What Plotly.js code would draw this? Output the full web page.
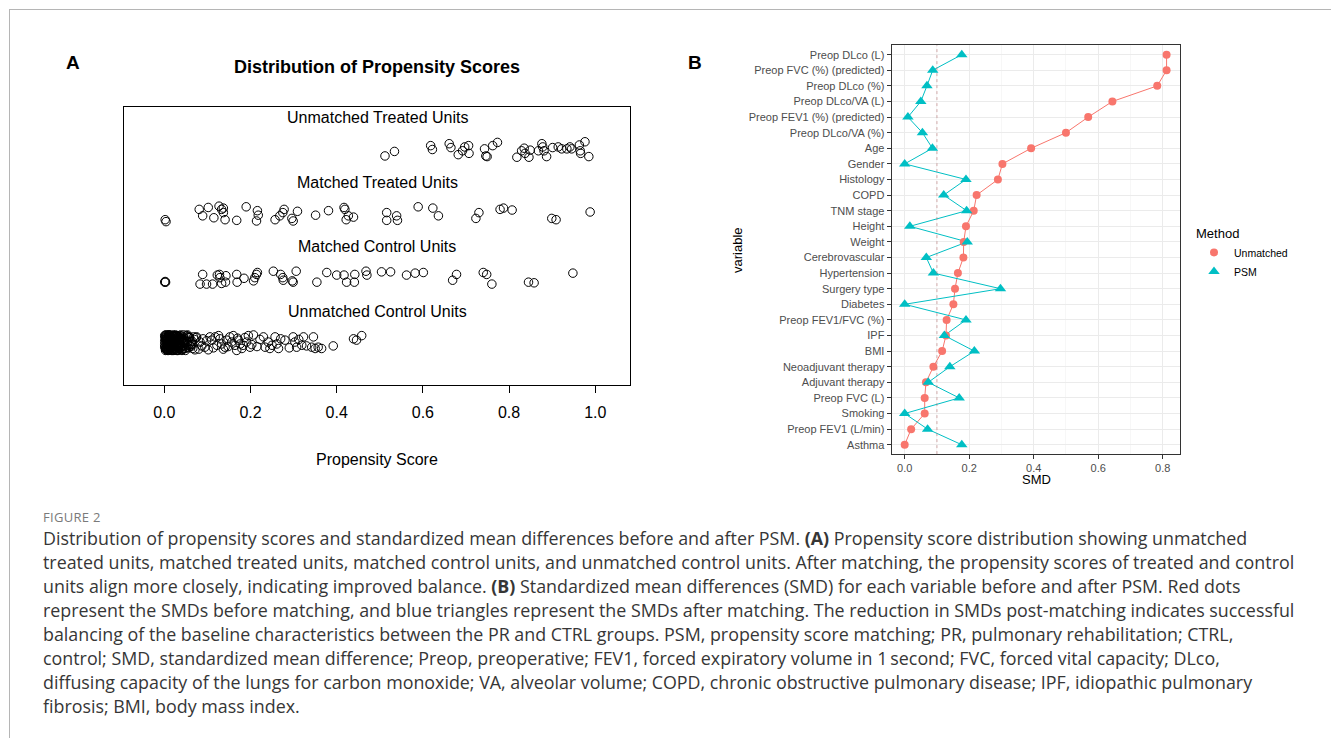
<!DOCTYPE html>
<html>
<head>
<meta charset="utf-8">
<script src="https://cdn.plot.ly/plotly-3.0.1.min.js"></script>
<style>
  html, body { margin:0; padding:0; background:#fff; }
  #wrap { position:relative; width:1331px; height:738px; overflow:hidden; }
  #frame { position:absolute; left:9px; top:9px; width:1330px; height:740px; border-top:1px solid #b5b5b5; border-left:1px solid #b5b5b5; }
  #chart { position:absolute; left:0; top:0; width:1331px; height:738px; }
  #figlabel { position:absolute; left:43px; top:508px; font-family:"Open Sans", "Noto Sans", sans-serif; font-size:13px; color:#7a7a7a; letter-spacing:0.3px; }
  #caption { position:absolute; left:43px; top:526px; font-family:"Open Sans", "Noto Sans", sans-serif; font-size:17.85px; line-height:24px; color:#363636; white-space:nowrap; }
</style>
</head>
<body>
<div id="wrap">
  <div id="frame"></div>
  <div id="chart"></div>
  <div id="figlabel">FIGURE 2</div>
  <div id="caption">
Distribution of propensity scores and standardized mean differences before and after PSM. <b>(A)</b> Propensity score distribution showing unmatched<br>
treated units, matched treated units, matched control units, and unmatched control units. After matching, the propensity scores of treated and control<br>
units align more closely, indicating improved balance. <b>(B)</b> Standardized mean differences (SMD) for each variable before and after PSM. Red dots<br>
represent the SMDs before matching, and blue triangles represent the SMDs after matching. The reduction in SMDs post-matching indicates successful<br>
balancing of the baseline characteristics between the PR and CTRL groups. PSM, propensity score matching; PR, pulmonary rehabilitation; CTRL,<br>
control; SMD, standardized mean difference; Preop, preoperative; FEV1, forced expiratory volume in 1&#8201;second; FVC, forced vital capacity; DLco,<br>
diffusing capacity of the lungs for carbon monoxide; VA, alveolar volume; COPD, chronic obstructive pulmonary disease; IPF, idiopathic pulmonary<br>
fibrosis; BMI, body mass index.
  </div>
</div>
<script>
// ---------- Panel A: propensity scores (x) and vertical jitter ----------
var rowLabels = ["Unmatched Control Units", "Matched Control Units", "Matched Treated Units", "Unmatched Treated Units"];

var unmatchedTreatedX = [0.512,0.534,0.618,0.622,0.661,0.665,0.682,0.692,0.697,0.706,0.707,0.743,0.746,0.749,0.762,0.773,
  0.818,0.829,0.835,0.837,0.846,0.849,0.868,0.876,0.878,0.881,0.887,0.901,0.914,0.922,0.934,0.941,0.945,0.963,0.965,0.966,0.976,0.985];
var unmatchedTreatedJ = [-0.10,-0.03,0.06,0.00,0.09,0.03,-0.08,-0.02,0.04,0.06,-0.06,0.01,-0.10,-0.11,0.06,0.11,
  -0.12,-0.02,0.02,-0.06,-0.12,-0.01,-0.02,0.09,0.04,-0.02,-0.11,0.03,0.04,0.01,0.01,0.04,0.01,0.07,-0.02,-0.06,0.12,-0.11];

var matchedTreatedX = [0.002,0.004,0.081,0.089,0.102,0.115,0.127,0.133,0.137,0.137,0.141,0.168,0.190,0.216,0.218,0.214,
  0.257,0.268,0.275,0.278,0.296,0.299,0.309,0.351,0.381,0.417,0.419,0.422,0.427,0.439,0.516,0.516,0.539,0.541,
  0.589,0.623,0.636,0.723,0.730,0.779,0.787,0.807,0.899,0.909,0.988];
var matchedTreatedJ = [-0.09,-0.12,0.07,-0.03,0.10,-0.06,0.12,0.07,0.09,0.02,-0.09,-0.10,0.11,0.05,-0.02,-0.11,
  -0.09,-0.03,0.02,0.07,-0.07,-0.11,0.04,-0.02,0.05,0.10,0.07,-0.09,-0.03,-0.05,0.02,-0.10,-0.03,-0.10,
  0.11,0.09,-0.03,-0.07,0.02,0.07,0.09,0.06,-0.07,-0.09,0.03];

var matchedControlX = [0.001,0.002,0.003,0.083,0.089,0.098,0.112,0.123,0.128,0.129,0.133,0.142,0.143,0.168,0.169,0.185,
  0.207,0.210,0.214,0.216,0.253,0.270,0.275,0.276,0.297,0.299,0.306,0.354,0.377,0.400,0.417,0.423,0.441,0.442,
  0.468,0.470,0.504,0.525,0.562,0.582,0.601,0.669,0.678,0.740,0.748,0.760,0.845,0.858,0.948];
var matchedControlJ = [-0.06,-0.05,-0.06,-0.09,0.06,-0.09,-0.09,0.05,0.06,0.01,-0.08,-0.06,0.04,0.06,-0.06,0.00,
  -0.04,0.01,0.06,0.09,0.11,0.06,0.01,-0.03,-0.04,-0.06,0.11,-0.06,0.09,0.05,0.05,-0.06,-0.06,0.06,
  0.11,0.05,0.10,0.10,0.05,0.08,0.09,-0.03,0.06,0.09,0.06,-0.09,-0.06,-0.07,0.08];

var unmatchedControlX = [
  0.002,0.004,0.001,0.006,0.003,0.008,0.005,0.010,0.002,0.007,
  0.012,0.009,0.015,0.011,0.004,0.018,0.013,0.006,0.020,0.016,
  0.001,0.022,0.014,0.009,0.025,0.019,0.003,0.027,0.017,0.011,
  0.030,0.023,0.008,0.032,0.021,0.005,0.035,0.026,0.013,0.038,
  0.029,0.002,0.041,0.024,0.015,0.044,0.033,0.007,0.047,0.028,
  0.018,0.050,0.036,0.010,0.053,0.031,0.021,0.056,0.039,0.012,
  0.059,0.034,0.024,0.062,0.042,0.016,0.045,0.027,0.065,0.037,
  0.019,0.048,0.004,0.068,0.040,0.026,0.052,0.009,0.071,0.043,
  0.022,0.057,0.014,0.046,0.030,0.061,0.006,0.049,0.035,0.066,
  0.017,0.054,0.028,0.070,0.003,0.058,0.032,0.063,0.023,0.074,
  0.001,0.005,0.009,0.013,0.017,0.021,0.025,0.029,0.033,0.037,
  0.002,0.006,0.011,0.015,0.019,0.024,0.028,0.032,0.036,0.041,
  0.003,0.008,0.012,0.016,0.020,0.026,0.031,0.035,0.040,0.045,
  0.004,0.007,0.010,0.014,0.018,0.022,0.027,0.034,0.039,0.051,
  0.001,0.006,0.012,0.017,0.023,0.029,0.038,0.044,0.055,0.060,
  0.003,0.009,0.015,0.021,0.028,0.033,0.042,0.048,0.053,0.064,
  0.075,0.080,0.083,0.087,0.090,0.094,0.098,0.102,0.106,0.110,0.114,0.118,0.122,0.126,0.129,0.133,0.137,
  0.141,0.145,0.148,0.152,0.156,0.160,0.164,0.168,0.170,0.172,0.176,0.180,0.183,0.187,0.191,0.195,0.199,
  0.203,0.207,0.215,0.222,0.230,0.234,0.241,0.245,0.250,0.257,0.261,0.265,0.270,0.280,0.290,0.299,0.303,
  0.307,0.312,0.319,0.323,0.330,0.342,0.346,0.350,0.357,0.365,0.392,0.439,0.446,0.458];
var unmatchedControlJ = [
  0.10,-0.08,0.02,-0.11,0.06,-0.03,0.12,0.09,-0.06,-0.12,
  0.04,0.11,-0.09,0.00,-0.02,0.07,-0.10,0.08,-0.05,0.03,
  0.11,-0.12,0.05,-0.07,0.10,-0.01,-0.09,0.06,-0.11,0.12,
  -0.04,0.09,0.01,-0.08,0.12,-0.06,0.03,-0.10,0.08,-0.03,
  0.11,0.05,-0.12,0.02,-0.07,0.09,-0.09,-0.01,0.06,0.10,
  -0.11,-0.05,0.07,0.12,0.01,-0.12,0.10,-0.08,0.04,-0.10,
  0.08,-0.02,0.11,-0.06,-0.10,0.05,0.12,-0.04,0.02,0.07,
  -0.12,-0.09,0.03,0.09,-0.07,0.00,0.11,-0.05,-0.11,0.06,
  0.04,0.08,-0.08,-0.01,0.10,-0.03,0.07,-0.12,0.11,-0.09,
  0.02,0.12,-0.06,0.05,-0.10,0.09,-0.12,0.01,-0.08,0.08,
  -0.03,0.05,-0.10,0.12,-0.06,0.02,0.09,-0.12,0.04,-0.08,
  0.08,-0.11,0.03,-0.04,0.11,-0.07,0.00,0.10,-0.09,0.06,
  -0.12,0.01,0.10,-0.05,-0.09,0.12,-0.02,0.07,-0.11,0.03,
  0.06,-0.02,-0.12,0.09,0.01,-0.10,0.11,-0.06,0.04,-0.08,
  -0.07,0.10,0.07,-0.12,0.04,-0.03,0.12,-0.09,0.02,-0.05,
  0.12,-0.04,-0.08,0.06,-0.11,0.10,-0.06,0.03,0.09,-0.02,
  0.09,-0.10,0.01,-0.05,0.06,-0.07,0.03,-0.11,0.09,0.04,-0.08,0.09,-0.04,0.11,0.06,-0.02,-0.10,
  -0.07,0.04,-0.06,0.09,0.01,0.11,-0.04,-0.12,0.07,0.04,-0.02,-0.09,-0.04,0.08,0.01,0.11,-0.07,
  -0.03,0.12,-0.06,0.05,0.09,-0.07,0.01,-0.09,-0.04,0.09,-0.02,-0.09,0.06,0.04,-0.08,0.09,0.01,
  -0.07,0.05,-0.04,0.09,-0.05,-0.07,0.09,-0.09,-0.07,-0.09,-0.05,0.06,0.04,0.11];

// ---------- Panel B: standardized mean differences ----------
var variables = ["Preop DLco (L)","Preop FVC (%) (predicted)","Preop DLco (%)","Preop DLco/VA (L)","Preop FEV1 (%) (predicted)",
  "Preop DLco/VA (%)","Age","Gender","Histology","COPD","TNM stage","Height","Weight","Cerebrovascular","Hypertension",
  "Surgery type","Diabetes","Preop FEV1/FVC (%)","IPF","BMI","Neoadjuvant therapy","Adjuvant therapy","Preop FVC (L)",
  "Smoking","Preop FEV1 (L/min)","Asthma"];
var smdUnmatched = [0.812,0.812,0.783,0.644,0.569,0.500,0.392,0.303,0.289,0.223,0.214,0.190,0.183,0.182,0.165,
  0.156,0.151,0.130,0.128,0.116,0.089,0.066,0.062,0.062,0.020,0.000];
var smdPSM = [0.177,0.087,0.069,0.050,0.010,0.055,0.086,0.000,0.190,0.121,0.192,0.016,0.194,0.067,0.089,
  0.297,0.000,0.190,0.123,0.216,0.140,0.073,0.169,0.000,0.071,0.177];
var methods = ["Unmatched","PSM"];
var threshold = 0.1;

// ---------- build ----------
var W = 1331, H = 738;
function px(x){ return x / W; }
function py(y){ return 1 - y / H; }

var traces = [];
var rowsX = [unmatchedControlX, matchedControlX, matchedTreatedX, unmatchedTreatedX];
var rowsJ = [unmatchedControlJ, matchedControlJ, matchedTreatedJ, unmatchedTreatedJ];
rowsX.forEach(function(xs, i){
  traces.push({
    type:'scatter', mode:'markers', xaxis:'x', yaxis:'y', showlegend:false, hoverinfo:'skip',
    x: xs, y: rowsJ[i].map(function(j){ return (i + 1) + j; }),
    marker:{symbol:'circle-open', size:8.5, color:'black', line:{width:1, color:'black'}}
  });
});

var colUn = '#F8766D', colPsm = '#00BFC4';
traces.push({type:'scatter', mode:'lines', xaxis:'x2', yaxis:'y2', showlegend:false, hoverinfo:'skip',
  x: smdUnmatched, y: variables, line:{color:colUn, width:1}});
traces.push({type:'scatter', mode:'lines', xaxis:'x2', yaxis:'y2', showlegend:false, hoverinfo:'skip',
  x: smdPSM, y: variables, line:{color:colPsm, width:1}});
traces.push({type:'scatter', mode:'markers', xaxis:'x2', yaxis:'y2', name:methods[0],
  x: smdUnmatched, y: variables, marker:{symbol:'circle', size:8, color:colUn}});
traces.push({type:'scatter', mode:'markers', xaxis:'x2', yaxis:'y2', name:methods[1],
  x: smdPSM, y: variables, marker:{symbol:'triangle-up', size:10, color:colPsm}});

function ann(text, x, y, size, extra){
  var a = {text:text, xref:'paper', yref:'paper', x:px(x), y:py(y), xanchor:'center', yanchor:'middle',
    showarrow:false, font:{size:size, color:'black'}};
  if (extra) for (var k in extra) a[k] = extra[k];
  return a;
}
var annotations = [
  ann('<b>Distribution of Propensity Scores</b>', 377, 67, 18),
  ann('<b>A</b>', 73, 62, 19),
  ann('<b>B</b>', 695, 62, 19),
  ann('Propensity Score', 377, 459, 16),
  ann('variable', 738, 250, 13, {textangle:-90}),
  ann('SMD', 1036, 479, 13)
];
rowLabels.forEach(function(lab, i){
  annotations.push({text:lab, xref:'x domain', yref:'y', x:0.5, y:(i + 1) + 0.49, xanchor:'center', yanchor:'middle',
    showarrow:false, font:{size:16, color:'black'}});
});

var layout = {
  width:W, height:H, margin:{l:0, r:0, t:0, b:0},
  paper_bgcolor:'rgba(0,0,0,0)', plot_bgcolor:'rgba(0,0,0,0)',
  font:{family:'"Liberation Sans", Arial, sans-serif', color:'black'},
  showlegend:true,
  xaxis:{domain:[px(124), px(630)], range:[-0.0935, 1.0805], anchor:'y',
    tick0:0, dtick:0.2, tickformat:'.1f', ticks:'outside', ticklen:7, tickcolor:'black', tickwidth:1,
    ticklabelstandoff:6,
    tickfont:{size:16, color:'black'}, showline:true, mirror:true, linecolor:'black', linewidth:1,
    showgrid:false, zeroline:false, fixedrange:true},
  yaxis:{domain:[py(385), py(107)], range:[0.343, 4.66], anchor:'x',
    showticklabels:false, ticks:'', showline:true, mirror:true, linecolor:'black', linewidth:1,
    showgrid:false, zeroline:false, fixedrange:true},
  xaxis2:{domain:[px(891.6), px(1179.8)], range:[-0.0406, 0.853], anchor:'y2',
    tick0:0, dtick:0.2, tickformat:'.1f', ticks:'outside', ticklen:4, tickcolor:'#333', tickwidth:1,
    tickfont:{size:11, color:'#4d4d4d'}, showline:true, mirror:true, linecolor:'#333', linewidth:1,
    showgrid:true, gridcolor:'#ebebeb', gridwidth:1, zeroline:false, fixedrange:true,
    minor:{dtick:0.1, tick0:0, showgrid:true, gridcolor:'#f2f2f2', gridwidth:0.6}},
  yaxis2:{domain:[py(454.1), py(45.3)], type:'category', categoryorder:'array',
    categoryarray: variables.slice().reverse(), range:[-0.6, 25.6], anchor:'x2',
    ticks:'outside', ticklen:4, tickcolor:'#333', tickwidth:1,
    tickfont:{size:11, color:'#4d4d4d'}, showline:true, mirror:true, linecolor:'#333', linewidth:1,
    showgrid:true, gridcolor:'#ebebeb', gridwidth:1, zeroline:false, fixedrange:true},
  shapes:[{type:'line', xref:'x2', yref:'y2 domain', x0:threshold, x1:threshold, y0:0, y1:1,
    line:{color:'rgba(180,115,115,0.6)', width:1, dash:'dot'}}],
  legend:{x:px(1194), y:py(221), xanchor:'left', yanchor:'top', bgcolor:'rgba(0,0,0,0)',
    title:{text:'Method', font:{size:13, color:'black'}}, font:{size:10.5, color:'black'}, tracegroupgap:0, itemwidth:30},
  annotations: annotations
};

Plotly.newPlot('chart', traces, layout, {displayModeBar:false, staticPlot:true});
</script>
</body>
</html>
